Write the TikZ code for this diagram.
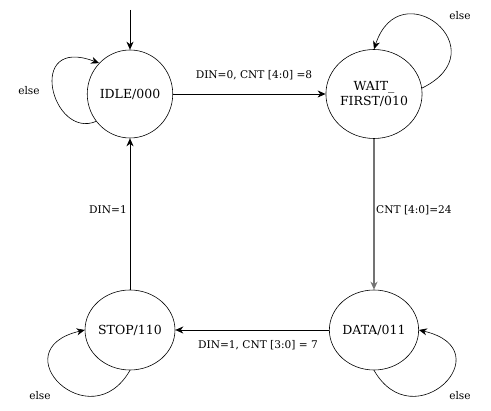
\documentclass[tikz,border=0pt]{standalone}
\usepackage{fontspec}
\setmainfont{DejaVu Serif}
\usetikzlibrary{arrows.meta,shapes.geometric}
\begin{document}
\begin{tikzpicture}[x=1pt,y=-1pt,
  state/.style={draw, ellipse, minimum width=85pt, minimum height=86pt, inner sep=0pt, line width=0.6pt,
    font=\fontsize{12.5}{15.5}\selectfont, align=center},
  lbl/.style={font=\fontsize{10.6}{12}\selectfont, inner sep=0pt},
  tip/.style={-{Stealth[length=8pt,width=7pt,inset=2.5pt]}},
  arr/.style={tip, line width=0.8pt},
  grayarr/.style={tip, line width=1.2pt, draw=black!55, color=black!55},
  selfloop/.style={tip, line width=0.6pt}]
\useasboundingbox (0,0) rectangle (491,411);
\node[state, minimum height=88pt] (idle) at (130,94) {IDLE/000};
\node[state, minimum height=89pt] (wait) at (374,94) {WAIT\_\\FIRST/010};
\node[state, minimum height=80pt] (stop) at (130,330) {STOP/110};
\node[state, minimum height=80pt] (data) at (374,330) {DATA/011};
\coordinate (init) at (130,10);
\draw[arr] (init) -- (idle);
\draw[arr] (idle) -- (wait);
\draw[grayarr] (wait) -- (data);
\draw[arr] (data) -- (stop);
\draw[arr] (stop) -- (idle);
\node[lbl] (l1) at (254,75) {DIN=0, CNT [4:0] =8};
\node[lbl, anchor=west] (l2) at (376,210) {CNT [4:0]=24};
\node[lbl] (l3) at (258,345) {DIN=1, CNT [3:0] = 7};
\node[lbl, anchor=east] (l4) at (127,210) {DIN=1};
\draw[selfloop] (idle.219) .. controls (52,140) and (25,35) .. (idle.135);
\draw[selfloop] (wait.7) .. controls (500,50) and (400,-30) .. (wait.90);
\draw[selfloop] (stop.270) .. controls (90,440) and (0,350) .. (stop.180);
\draw[selfloop] (data.270) .. controls (414,440) and (504,350) .. (data.0);
\node[lbl] (e1) at (29,91) {else};
\node[lbl] (e2) at (460,16) {else};
\node[lbl] (e3) at (40,396) {else};
\node[lbl] (e4) at (460,396) {else};
\end{tikzpicture}
\end{document}
